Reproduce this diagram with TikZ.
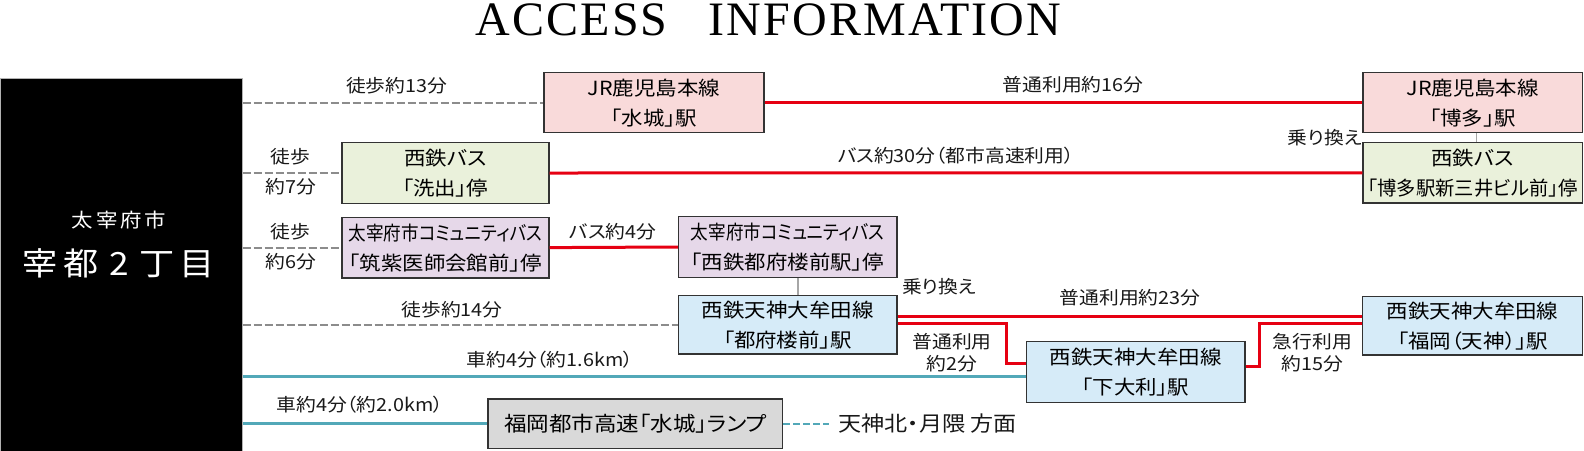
\documentclass[tikz,border=0pt]{standalone}
\usepackage{fontspec}
\setmainfont{Noto Sans CJK JP}[RawFeature=+palt,FakeStretch=1.1]
\newfontfamily\ttlfont{Liberation Serif}[LetterSpace=4.5]
\definecolor{cpink}{HTML}{F9DADA}
\definecolor{cgreen}{HTML}{EAF1DB}
\definecolor{clav}{HTML}{E6D8E9}
\definecolor{cblue}{HTML}{D6EBF8}
\definecolor{cgray}{HTML}{D9D9D9}
\definecolor{boxline}{HTML}{333333}
\definecolor{linered}{HTML}{E60012}
\definecolor{lineteal}{HTML}{52A8B8}
\definecolor{walkgray}{HTML}{8C8C8C}
\newcommand\bxfont{\fontsize{19.5}{30}\selectfont}
\newcommand\lbfont{\fontsize{18}{30}\selectfont}
\newcommand\nrw[2]{\scalebox{#1}[1]{#2}}
\tikzset{
  stbox/.style={draw=boxline, line width=1.3pt, align=center, inner sep=0pt, font=\bxfont, text=black},
  lbl/.style={font=\lbfont, inner sep=0pt, align=center, text=black!90},
  tightlbl/.style={font=\fontsize{18}{21.5}\selectfont},
  redline/.style={draw=linered, line width=3pt},
  tealline/.style={draw=lineteal, line width=3pt},
  walk/.style={draw=walkgray, line width=2pt, dash pattern=on 8pt off 3pt},
  tealdash/.style={draw=lineteal, line width=2pt, dash pattern=on 7pt off 3pt},
  xfer/.style={draw=gray!70, line width=1.3pt},
}
\begin{document}
\begin{tikzpicture}[x=1pt,y=-1pt]
\useasboundingbox (0,0) rectangle (1584,450);
% title
\node[font=\ttlfont\fontsize{48}{48}\selectfont, anchor=base, inner sep=0pt] (ttlA) at (571.6,35.7) {ACCESS};
\node[font=\ttlfont\fontsize{48}{48}\selectfont, anchor=base, inner sep=0pt] (ttlB) at (885,35.7) {INFORMATION};
% home block
\node[fill=black, draw=gray!60, line width=1pt, anchor=north west, minimum width=241.5pt, minimum height=373pt, inner sep=0pt] (home) at (0,78) {};
\node[text=white, font=\fontsize{19.5}{20}\selectfont, inner sep=0pt] (city) at (119,220) {太\hspace{3pt}宰\hspace{3pt}府\hspace{3pt}市};
\node[text=white, font=\fontsize{32}{32}\selectfont, inner sep=0pt] (addr) at (119,263.3) {宰\hspace{5pt}都\hspace{11pt}2\hspace{11pt}丁\hspace{5pt}目};
% boxes
\node[stbox, fill=cpink, minimum width=220pt, minimum height=60pt] (mizuki) at (654,102.7) {JR鹿児島本線\\「水城」駅};
\node[stbox, fill=cpink, minimum width=219.5pt, minimum height=60pt] (hakata) at (1472.7,102.7) {JR鹿児島本線\\「博多」駅};
\node[stbox, fill=cgreen, minimum width=207pt, minimum height=60.6pt] (araide) at (445.5,173) {西鉄バス\\「洗出」停};
\node[stbox, fill=cgreen, minimum width=219.5pt, minimum height=60.3pt] (hakbus) at (1472.7,172.9) {西鉄バス\\\nrw{0.9}{「博多駅新三井ビル前」停}};
\node[stbox, fill=clav, minimum width=207pt, minimum height=60.7pt] (chiku) at (445.5,247.6) {\nrw{0.82}{太宰府市コミュニティバス}\\「筑紫医師会館前」停};
\node[stbox, fill=clav, minimum width=218.5pt, minimum height=60.6pt] (tofbus) at (787.7,247) {\nrw{0.82}{太宰府市コミュニティバス}\\「西鉄都府楼前駅」停};
\node[stbox, fill=cblue, minimum width=218.5pt, minimum height=58.3pt] (tofu) at (787.7,324.9) {西鉄天神大牟田線\\「都府楼前」駅};
\node[stbox, fill=cblue, minimum width=218.5pt, minimum height=60.6pt] (shimo) at (1135.7,372) {西鉄天神大牟田線\\「下大利」駅};
\node[stbox, fill=cblue, minimum width=219.8pt, minimum height=58.3pt] (fuku) at (1472.6,325.9) {西鉄天神大牟田線\\「福岡（天神）」駅};
\node[stbox, fill=cgray, minimum width=294.7pt, minimum height=49.3pt, font=\fontsize{20.5}{30}\selectfont] (ramp) at (635.3,423.7) {福岡都市高速「水城」ランプ};
\node[lbl, anchor=west, font=\fontsize{21}{22}\selectfont, inner xsep=9pt] (dest) at (829,423.7) {天神北・月隈 方面};
% walking links
\draw[walk] (home.east |- mizuki) -- (mizuki.west);
\draw[walk] (home.east |- araide) -- (araide.west);
\draw[walk] (home.east |- chiku) -- (chiku.west);
\draw[walk] (home.east |- tofu) -- (tofu.west);
% rail / bus links
\draw[redline] (mizuki.east) -- (hakata.west);
\draw[redline] (araide.east) -- (hakbus.west);
\draw[redline] (chiku.east) -- (tofbus.west);
\draw[redline] (tofu.east |- 0,316) -- (fuku.west |- 0,316);
\draw[redline] (tofu.east |- 0,323.3) -| (1006.5,363) -- (shimo.west |- 0,363);
\draw[redline] (shimo.east |- 0,366) -| (1259.5,323.3) -- (fuku.west |- 0,323.3);
% car links
\draw[tealline] (home.east |- 0,376.7) -- (shimo.west |- 0,376.7);
\draw[tealline] (home.east |- ramp) -- (ramp.west);
\draw[tealdash] (ramp.east) -- (dest.west);
% transfers
\draw[xfer] (hakata.south -| 1476.7,0) -- (hakbus.north -| 1476.7,0);
\draw[xfer] (tofbus.south -| 798,0) -- (tofu.north -| 798,0);
% labels
\node[lbl] (l1) at (396.7,86) {徒歩約13分};
\node[lbl] (l2) at (1073,85) {普通利用約16分};
\node[lbl, anchor=east] (l3) at (1362,137.5) {乗り換え};
\node[lbl] (l4) at (290.7,171.7) {徒歩\\約7分};
\node[lbl] (l5) at (956,156) {バス約30分（都市高速利用）};
\node[lbl] (l6) at (290.7,246.7) {徒歩\\約6分};
\node[lbl] (l7) at (613,231.7) {バス約4分};
\node[lbl] (l8) at (939,286.7) {乗り換え};
\node[lbl] (l9) at (452,310) {徒歩約14分};
\node[lbl] (l10) at (1130,297.7) {普通利用約23分};
\node[lbl, tightlbl] (l11) at (952,352.5) {普通利用\\約2分};
\node[lbl, tightlbl] (l12) at (1312.5,352.5) {急行利用\\約15分};
\node[lbl] (l13) at (550,360) {車約4分（約1.6km）};
\node[lbl] (l14) at (360,405) {車約4分（約2.0km）};
\end{tikzpicture}
\end{document}
